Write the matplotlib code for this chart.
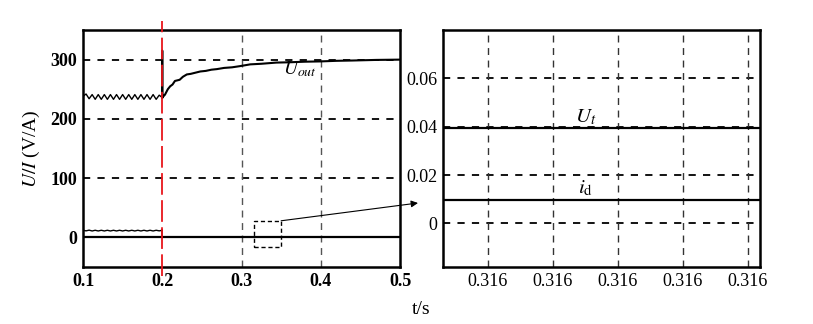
import numpy as np
import matplotlib.pyplot as plt
from matplotlib.patches import Rectangle, ConnectionPatch

plt.rcParams['font.family'] = ['Liberation Serif', 'DejaVu Serif']
plt.rcParams['mathtext.fontset'] = 'stix'

# ripple before the step (0.1 .. 0.2 s)
uout_ripple = [238, 242, 234, 241, 233, 241, 233, 241, 233, 241, 233, 241, 233, 241,
               233, 241, 233, 241, 233, 241, 233, 241, 233, 241, 233, 240, 236]
id_ripple = [12.0, 11.0, 12.2, 10.8, 12.0, 10.8, 12.0, 10.8, 12.0, 10.8, 12.0, 10.8, 12.0, 10.8,
             12.0, 10.8, 12.0, 10.8, 12.0, 10.8, 12.0, 10.8, 12.0, 10.8, 12.0, 11.0, 12.0]

# U_out after the step
t_rise = [0.2, 0.2, 0.2, 0.2035, 0.207, 0.210, 0.213, 0.216, 0.219, 0.222, 0.226, 0.231,
          0.236, 0.242, 0.248, 0.255, 0.262, 0.269, 0.278, 0.288, 0.298, 0.311, 0.325,
          0.344, 0.36, 0.38, 0.40, 0.42, 0.44, 0.47, 0.5]
u_rise = [236, 315, 236, 241, 250, 255, 258, 264, 265, 266, 271, 275,
          276, 278, 280, 281, 283, 284, 286, 287, 289, 292, 293,
          295, 295.5, 296.5, 297, 298, 298.5, 299.5, 300]

# zero line (U_t, i_d after the step)
t_zero = [0.1, 0.5]
v_zero = [0, 0]

# zoomed window values
zoom_ticks = [0.31600, 0.31601, 0.31602, 0.31603, 0.31604]
zoom_labels = ['0.316'] * 5
ut_val = 0.0395
id_val = 0.0095

fig = plt.figure(figsize=(8.13, 3.24), dpi=100)
ax1 = fig.add_axes([83/813, 1-267/324, 317/813, 237/324])
ax2 = fig.add_axes([443/813, 1-267/324, 317/813, 237/324])

# left panel
t_rip = np.linspace(0.1, 0.2, len(uout_ripple))
ax1.plot(t_rip, uout_ripple, color='k', lw=1.0)
ax1.plot(t_rise, u_rise, color='k', lw=1.5)
ax1.plot(t_rip, id_ripple, color='k', lw=1.0)
ax1.plot([0.2, 0.2], [id_ripple[-1], 0], color='k', lw=1.2)
ax1.plot(t_zero, v_zero, color='k', lw=1.6)

ax1.set_xlim(0.1, 0.5)
ax1.set_ylim(-50, 350)
ax1.set_xticks([0.1, 0.2, 0.3, 0.4, 0.5])
ax1.set_xticklabels(['0.1', '0.2', '0.3', '0.4', '0.5'])
ax1.set_yticks([0, 100, 200, 300])
for y in [100, 200, 300]:
    ax1.axhline(y, color='k', ls=(0, (4, 4)), lw=1.3, zorder=0)
for x in [0.3, 0.4]:
    ax1.axvline(x, color='#555555', ls=(0, (5, 4)), lw=1.0, zorder=0)
ax1.axvline(0.2, ymin=-0.04, ymax=1.04, color='#e8161b', ls=(0, (12, 3)), lw=1.3,
            clip_on=False, zorder=5)
ax1.tick_params(length=0, labelsize=13, pad=4)
for lb in ax1.get_xticklabels() + ax1.get_yticklabels():
    lb.set_fontweight('bold')
ax1.set_ylabel('$U/I$ (V/A)', fontsize=14, labelpad=6)
ax1.text(0.352, 276, '$U_{out}$', fontsize=14)

box = Rectangle((0.3155, -17), 0.0345, 45, fill=False, ls=(0, (3, 2)), lw=1.0, color='k')
ax1.add_patch(box)

for sp in ax1.spines.values():
    sp.set_linewidth(1.8)

# right panel
ax2.axhline(ut_val, color='k', lw=1.6)
ax2.axhline(id_val, color='k', lw=1.6)
d = zoom_ticks[1] - zoom_ticks[0]
ax2.set_xlim(zoom_ticks[0] - 0.69 * d, zoom_ticks[-1] + 0.185 * d)
ax2.set_ylim(-0.018, 0.08)
ax2.set_xticks(zoom_ticks)
ax2.set_xticklabels(zoom_labels)
ax2.set_yticks([0, 0.02, 0.04, 0.06])
ax2.set_yticklabels(['0', '0.02', '0.04', '0.06'])
for y in [0, 0.02, 0.04, 0.06]:
    ax2.axhline(y, color='k', ls=(0, (4, 4)), lw=1.3, zorder=0)
for x in zoom_ticks:
    ax2.axvline(x, color='#333333', ls=(0, (5, 4)), lw=1.0, zorder=0)
ax2.tick_params(length=0, labelsize=13, pad=4)
ax2.text(zoom_ticks[2] - 0.5 * d, 0.042, '$U_t$', fontsize=15, ha='center')
ax2.text(zoom_ticks[2] - 0.5 * d, 0.0125, r'$i_{\rm d}$', fontsize=15, ha='center')
for sp in ax2.spines.values():
    sp.set_linewidth(1.8)

con = ConnectionPatch(xyA=(0.35, 28), coordsA=ax1.transData,
                      xyB=(418/813, 1-203/324), coordsB=fig.transFigure,
                      arrowstyle='-|>', mutation_scale=10, lw=0.8, color='k')
fig.add_artist(con)

fig.text(421/813, 1-310/324, 't/s', fontsize=14, ha='center', va='center')

fig.savefig('out.png', dpi=100)
